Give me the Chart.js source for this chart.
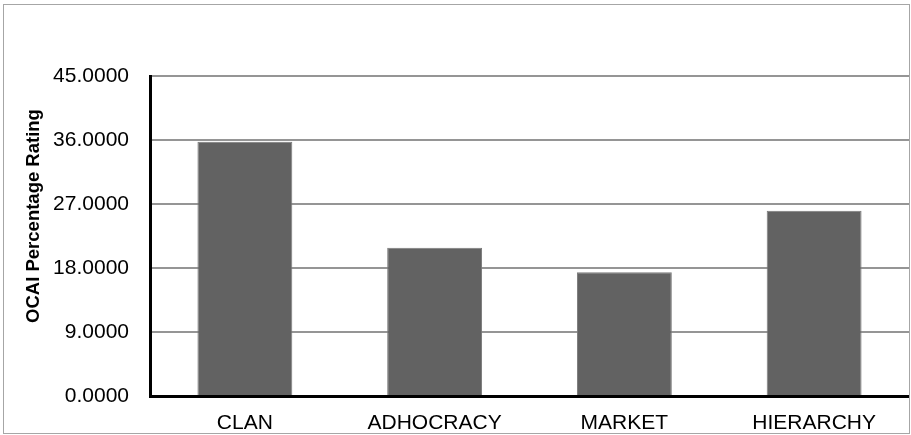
<!DOCTYPE html>
<html lang="en">
<head>
    <meta charset="UTF-8">
    <title>OCAI Percentage Rating</title>
    <script src="https://cdn.jsdelivr.net/npm/chart.js"></script>
    <style>
        body { margin: 0; background: #fff; }
        #wrap {
            position: absolute; left: 3px; top: 4px;
            width: 907px; height: 430px;
            box-sizing: border-box;
            border: 1px solid #a6a6a6;
        }
    </style>
</head>
<body>

<div id="wrap">
    <canvas id="myChart" width="905" height="428"></canvas>
</div>

<script>
    var categories = ['CLAN', 'ADHOCRACY', 'MARKET', 'HIERARCHY'];
    var ratings = [35.75, 20.85, 17.4, 26.05];
    var yTicks = [0, 9, 18, 27, 36, 45];
    var yTitle = 'OCAI Percentage Rating';

    // axis title sits a bit above the middle of the axis in the original, so draw it by hand
    var yTitlePlugin = {
        id: 'yTitle',
        afterDraw: function (chart) {
            var c = chart.ctx;
            c.save();
            c.translate(30, 211);
            c.rotate(-Math.PI / 2);
            c.font = 'bold 18.5px "Liberation Sans"';
            c.fillStyle = '#000';
            c.textAlign = 'center';
            c.textBaseline = 'middle';
            c.fillText(yTitle, 0, 0);
            c.restore();
        }
    };

    var ctx = document.getElementById('myChart').getContext('2d');
    var myChart = new Chart(ctx, {
        type: 'bar',
        data: {
            labels: categories,
            datasets: [{
                label: yTitle,
                data: ratings,
                backgroundColor: '#626262',
                borderColor: '#7a7a7a',
                borderWidth: 1,
                categoryPercentage: 1.0,
                barPercentage: 0.5
            }]
        },
        options: {
            responsive: false,
            animation: false,
            layout: { padding: { top: 71, right: 0, bottom: 0, left: 0 } },
            plugins: {
                legend: { display: false },
                tooltip: { enabled: false }
            },
            scales: {
                x: {
                    grid: { display: false, drawTicks: false },
                    border: { color: '#000', width: 3 },
                    ticks: {
                        color: '#000',
                        padding: 15,
                        font: { family: 'Liberation Sans', size: 21 }
                    },
                    afterFit: function (scale) { scale.height = 37; }
                },
                y: {
                    min: 0,
                    max: 45,
                    afterBuildTicks: function (scale) {
                        scale.ticks = yTicks.map(function (v) { return { value: v }; });
                    },
                    grid: { color: '#959595', lineWidth: 2, drawTicks: false },
                    border: { color: '#000', width: 3 },
                    ticks: {
                        color: '#000',
                        padding: 21,
                        font: { family: 'Liberation Sans', size: 21 },
                        callback: function (v) { return Number(v).toFixed(4); }
                    },
                    afterFit: function (scale) { scale.width = 146; }
                }
            }
        },
        plugins: [yTitlePlugin]
    });
</script>

</body>
</html>
